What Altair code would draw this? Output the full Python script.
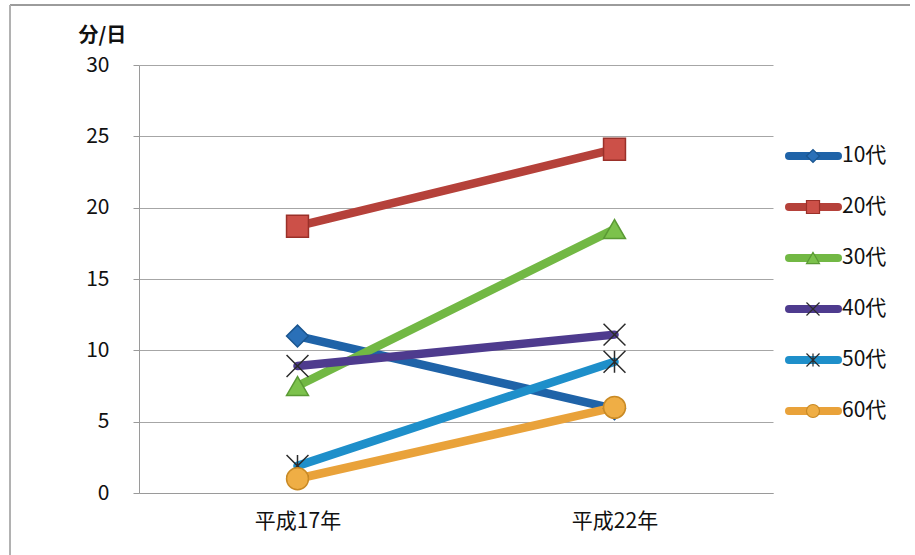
import altair as alt
import pandas as pd

# Minutes per day by age group, two survey years
series = ["10代", "20代", "30代", "40代", "50代", "60代"]
years = ["平成17年", "平成22年"]
h17 = [11.0, 18.7, 7.5, 8.9, 1.9, 1.0]
h22 = [5.9, 24.1, 18.5, 11.1, 9.2, 6.0]
y_ticks = [0, 5, 10, 15, 20, 25, 30]

line_colors = ["#1f63a8", "#b5413a", "#72b844", "#4e3b8e", "#1e8fca", "#e9a23a"]
marker_fill = ["#2a70b8", "#cc5048", "#7cc24c", "transparent", "transparent", "#efae45"]
marker_stroke = ["#1a558f", "#9a3029", "#5a9a34", "#2b2b2b", "#2b2b2b", "#c98a25"]
marker_shapes = [
    "diamond",
    "square",
    "triangle-up",
    "M-1,-1L1,1M-1,1L1,-1",
    "M-1,-1L1,1M-1,1L1,-1M0,-1L0,1",
    "circle",
]

FONT = "Noto Sans CJK JP"

rows = []
for s, a, b in zip(series, h17, h22):
    rows.append({"series": s, "year": years[0], "minutes": a})
    rows.append({"series": s, "year": years[1], "minutes": b})
df = pd.DataFrame(rows)
legend_df = pd.DataFrame({"series": series, "slot": list(range(len(series)))})

x = alt.X(
    "year:N",
    scale=alt.Scale(domain=years),
    axis=alt.Axis(
        title=None, labelAngle=0, ticks=False, labelFontSize=21,
        labelPadding=17, labelColor="#111", labelFont=FONT,
        domainColor="#9a9a9a", grid=False,
    ),
)
y = alt.Y(
    "minutes:Q",
    scale=alt.Scale(domain=[0, 30], nice=False),
    axis=alt.Axis(
        values=y_ticks, title="分/日", titleAngle=0, titleAlign="left",
        titleBaseline="alphabetic", titleX=-61, titleY=-24,
        titleFontSize=20, titleFontWeight="bold", titleFont=FONT,
        titleColor="#111", labelFontSize=21, labelPadding=24,
        labelColor="#111", labelFont=FONT, tickSize=6, tickColor="#9a9a9a",
        domainColor="#9a9a9a", grid=True, gridColor="#a6a6a6",
    ),
)

color = alt.Color("series:N", scale=alt.Scale(domain=series, range=line_colors), legend=None)
fill = alt.Fill("series:N", scale=alt.Scale(domain=series, range=marker_fill), legend=None)
stroke = alt.Stroke("series:N", scale=alt.Scale(domain=series, range=marker_stroke), legend=None)
shape = alt.Shape("series:N", scale=alt.Scale(domain=series, range=marker_shapes), legend=None)

lines = alt.Chart(df).mark_line(
    strokeWidth=8.5, strokeCap="round", strokeJoin="round"
).encode(x=x, y=y, color=color)

points = alt.Chart(df).mark_point(
    filled=True, opacity=1, strokeWidth=1.5, size=480
).encode(x=x, y=y, fill=fill, stroke=stroke, shape=shape)

main = alt.layer(lines, points)

# Legend drawn beside the plot: one row per age group
ly = alt.Y(
    "slot:Q",
    scale=alt.Scale(domain=[0, len(series) - 1], range=[91, 346], nice=False, zero=False),
    axis=None,
)

leg_line = alt.Chart(legend_df).mark_rule(strokeWidth=8, strokeCap="round").encode(
    x=alt.value(650), x2=alt.value(699), y=ly, color=color
)
leg_mark = alt.Chart(legend_df).mark_point(
    filled=True, opacity=1, strokeWidth=1.2, size=170
).encode(x=alt.value(674), y=ly, fill=fill, stroke=stroke, shape=shape)
leg_text = alt.Chart(legend_df).mark_text(
    align="left", baseline="middle", fontSize=21, font=FONT, color="#111"
).encode(x=alt.value(703), y=ly, text="series:N")

# Outer chart-area border
frame_top = alt.Chart(legend_df).mark_rule(color="#9a9a9a", strokeWidth=1).encode(
    x=alt.value(-129), x2=alt.value(771), y=alt.value(-60)
)
frame_left = alt.Chart(legend_df).mark_rule(color="#b0b0b0", strokeWidth=1).encode(
    x=alt.value(-129), y=alt.value(-60), y2=alt.value(490)
)

legend = alt.layer(leg_line, leg_mark, leg_text, frame_top, frame_left)

chart = (
    alt.layer(main, legend)
    .resolve_scale(y="independent")
    .properties(
        width=634,
        height=428,
        autosize=alt.AutoSizeParams(type="none"),
        padding={"left": 139, "top": 65, "right": 142, "bottom": 62},
        background="white",
    )
    .configure_view(stroke=None)
)

chart.save("out.html", embed_options={"renderer": "svg", "actions": False})
